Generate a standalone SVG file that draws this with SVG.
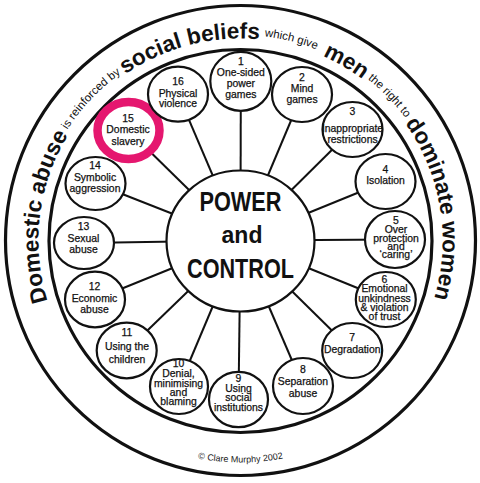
<svg xmlns="http://www.w3.org/2000/svg" xmlns:xlink="http://www.w3.org/1999/xlink" width="480" height="483" viewBox="0 0 480 483">
<style>
.ring{fill:none;stroke:#111;stroke-width:3.2}
.nd{fill:#fff;stroke:#111;stroke-width:2.2}
.spk{stroke:#111;stroke-width:2}
.t{font-family:"Liberation Sans",Arial,sans-serif;font-size:10.4px;text-anchor:middle;fill:#111;stroke:#111;stroke-width:0.25}
.big{font-family:"Liberation Sans",Arial,sans-serif;font-weight:bold;font-size:22.5px;fill:#111;text-anchor:middle}
.sm{font-family:"Liberation Sans",Arial,sans-serif;font-size:11.5px;fill:#111;text-anchor:middle}
.ctr{font-family:"Liberation Sans",Arial,sans-serif;font-weight:bold;fill:#111;text-anchor:middle}
.cp{font-family:"Liberation Sans",Arial,sans-serif;font-size:9px;fill:#222;text-anchor:middle}
</style>
<defs>
<path id="pb" d="M240.5,442.5 A202,202 0 1,1 240.5,38.5 A202,202 0 1,1 240.5,442.5"/>
<path id="ps" d="M240.5,446 A205.5,205.5 0 1,1 240.5,35 A205.5,205.5 0 1,1 240.5,446"/>
<path id="pc" d="M18.5,240.5 A222,222 0 0,0 462.5,240.5"/>
</defs>
<rect width="480" height="483" fill="#fff"/>
<g id="rings">
<circle class="ring" cx="240.5" cy="240.5" r="235"/>
<circle class="ring" cx="240.5" cy="241" r="191.5"/>
</g>
<g id="ring-text">
<text class="big"><textPath xlink:href="#pb" startOffset="342">Domestic abuse</textPath></text>
<text class="sm"><textPath xlink:href="#ps" startOffset="478.8">is reinforced by</textPath></text>
<text class="big"><textPath xlink:href="#pb" startOffset="582.8">social beliefs</textPath></text>
<text class="sm"><textPath xlink:href="#ps" startOffset="696.5">which give</textPath></text>
<text class="big"><textPath xlink:href="#pb" startOffset="742.1">men</textPath></text>
<text class="sm"><textPath xlink:href="#ps" startOffset="809.9">the right to</textPath></text>
<text class="big"><textPath xlink:href="#pb" startOffset="918.4">dominate women</textPath></text>
<text class="cp"><textPath xlink:href="#pc" startOffset="50%">© Clare Murphy 2002</textPath></text>
</g>
<g id="connectors">
<line class="spk" x1="240.5" y1="240.5" x2="240.8" y2="81.3"/>
<line class="spk" x1="240.5" y1="240.5" x2="302" y2="94.5"/>
<line class="spk" x1="240.5" y1="240.5" x2="352.5" y2="129.5"/>
<line class="spk" x1="240.5" y1="240.5" x2="385.5" y2="181.5"/>
<line class="spk" x1="240.5" y1="240.5" x2="395" y2="239.5"/>
<line class="spk" x1="240.5" y1="240.5" x2="385.8" y2="299.5"/>
<line class="spk" x1="240.5" y1="240.5" x2="352.2" y2="350.5"/>
<line class="spk" x1="240.5" y1="240.5" x2="303" y2="386"/>
<line class="spk" x1="240.5" y1="240.5" x2="238.5" y2="399.5"/>
<line class="spk" x1="240.5" y1="240.5" x2="179" y2="386.5"/>
<line class="spk" x1="240.5" y1="240.5" x2="126.7" y2="350.5"/>
<line class="spk" x1="240.5" y1="240.5" x2="95" y2="299.5"/>
<line class="spk" x1="240.5" y1="240.5" x2="84" y2="243"/>
<line class="spk" x1="240.5" y1="240.5" x2="95.5" y2="183.5"/>
<line class="spk" x1="240.5" y1="240.5" x2="128.5" y2="130.5"/>
<line class="spk" x1="240.5" y1="240.5" x2="178" y2="94.2"/>
</g>
<g id="center">
<ellipse class="nd" cx="240.5" cy="241" rx="74" ry="70.5" stroke-width="3.5"/>
<text class="ctr" x="240.5" y="211" font-size="27" textLength="82" lengthAdjust="spacingAndGlyphs">POWER</text>
<text class="ctr" x="242" y="243" font-size="23">and</text>
<text class="ctr" x="240.5" y="278" font-size="28" textLength="107" lengthAdjust="spacingAndGlyphs">CONTROL</text>
</g>
<g id="n1"><ellipse class="nd" cx="240.8" cy="81.3" rx="30.5" ry="29.5"/>
<text class="t"><tspan x="240.8" y="64.7">1</tspan><tspan x="240.8" y="76">One-sided</tspan><tspan x="240.8" y="86.8">power</tspan><tspan x="240.8" y="97.5">games</tspan></text></g>
<g id="n2"><ellipse class="nd" cx="302" cy="94.5" rx="30" ry="27.5"/>
<text class="t"><tspan x="302" y="80.5">2</tspan><tspan x="302" y="91.5">Mind</tspan><tspan x="302" y="102.5">games</tspan></text></g>
<g id="n3"><ellipse class="nd" cx="352.5" cy="129.5" rx="30" ry="27.5"/>
<text class="t"><tspan x="352.5" y="115">3</tspan><tspan x="352.5" y="131.5">Inappropriate</tspan><tspan x="352.5" y="143">restrictions</tspan></text></g>
<g id="n4"><ellipse class="nd" cx="385.5" cy="181.5" rx="30" ry="27.5"/>
<text class="t"><tspan x="385.5" y="173.3">4</tspan><tspan x="385.5" y="184">Isolation</tspan></text></g>
<g id="n5"><ellipse class="nd" cx="395" cy="239.5" rx="30" ry="28.5"/>
<text class="t"><tspan x="396" y="224.3">5</tspan><tspan x="396" y="232.7">Over</tspan><tspan x="396" y="241.7">protection</tspan><tspan x="396" y="250">and</tspan><tspan x="396" y="258.3">‘caring’</tspan></text></g>
<g id="n6"><ellipse class="nd" cx="385.8" cy="299.5" rx="30" ry="27.5"/>
<text class="t"><tspan x="384.5" y="282.7">6</tspan><tspan x="384.5" y="292.3">Emotional</tspan><tspan x="384.5" y="301.7">unkindness</tspan><tspan x="384.5" y="311">&amp; violation</tspan><tspan x="384.5" y="320">of trust</tspan></text></g>
<g id="n7"><ellipse class="nd" cx="352.2" cy="350.5" rx="30" ry="27.5"/>
<text class="t"><tspan x="352.2" y="341">7</tspan><tspan x="352.2" y="352.5">Degradation</tspan></text></g>
<g id="n8"><ellipse class="nd" cx="303" cy="386" rx="30" ry="28"/>
<text class="t"><tspan x="303" y="372.7">8</tspan><tspan x="303" y="385">Separation</tspan><tspan x="303" y="396.7">abuse</tspan></text></g>
<g id="n9"><ellipse class="nd" cx="238.5" cy="399.5" rx="29.5" ry="27.7"/>
<text class="t"><tspan x="238.5" y="382.3">9</tspan><tspan x="238.5" y="391.7">Using</tspan><tspan x="238.5" y="400.7">social</tspan><tspan x="238.5" y="410.7">institutions</tspan></text></g>
<g id="n10"><ellipse class="nd" cx="179" cy="386.5" rx="29" ry="27.5"/>
<text class="t"><tspan x="178.5" y="367.3">10</tspan><tspan x="178.5" y="377.3">Denial,</tspan><tspan x="178.5" y="386.7">minimising</tspan><tspan x="178.5" y="395.7">and</tspan><tspan x="178.5" y="405">blaming</tspan></text></g>
<g id="n11"><ellipse class="nd" cx="126.7" cy="350.5" rx="30" ry="27.8"/>
<text class="t"><tspan x="127" y="336">11</tspan><tspan x="127" y="350">Using the</tspan><tspan x="127" y="362.7">children</tspan></text></g>
<g id="n12"><ellipse class="nd" cx="95" cy="299.5" rx="30" ry="27.8"/>
<text class="t"><tspan x="94.5" y="290">12</tspan><tspan x="94.5" y="302.3">Economic</tspan><tspan x="94.5" y="313.3">abuse</tspan></text></g>
<g id="n13"><ellipse class="nd" cx="84" cy="243" rx="30" ry="26"/>
<text class="t"><tspan x="83.5" y="230">13</tspan><tspan x="83.5" y="241.7">Sexual</tspan><tspan x="83.5" y="252.7">abuse</tspan></text></g>
<g id="n14"><ellipse class="nd" cx="95.5" cy="183.5" rx="30" ry="26.5"/>
<text class="t"><tspan x="95" y="169.3">14</tspan><tspan x="95" y="180.8">Symbolic</tspan><tspan x="95" y="191.5">aggression</tspan></text></g>
<g id="n15"><ellipse cx="128.5" cy="130.5" rx="31" ry="28.5" fill="#fff" stroke="#e5176f" stroke-width="8.5"/>
<text class="t"><tspan x="128" y="121.7">15</tspan><tspan x="128" y="133.3">Domestic</tspan><tspan x="128" y="144.5">slavery</tspan></text></g>
<g id="n16"><ellipse class="nd" cx="178" cy="94.2" rx="30" ry="27.5"/>
<text class="t"><tspan x="178" y="85">16</tspan><tspan x="178" y="96.7">Physical</tspan><tspan x="178" y="107.3">violence</tspan></text></g>
</svg>
